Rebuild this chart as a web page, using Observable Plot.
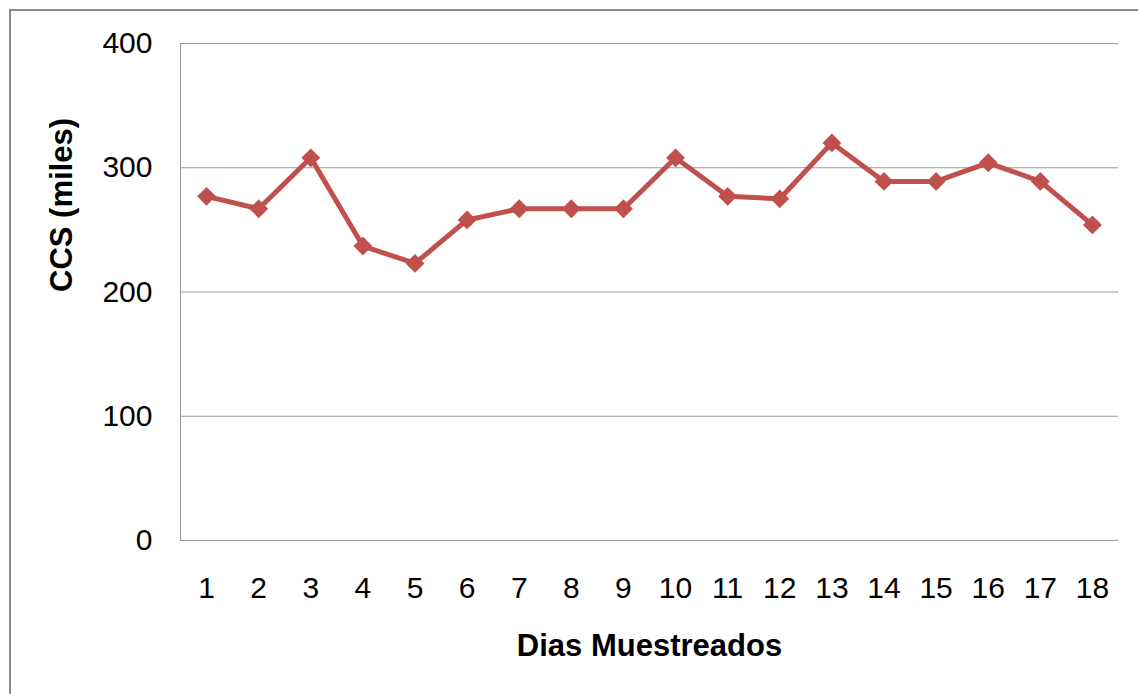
<!DOCTYPE html>
<html>
<head>
<meta charset="utf-8">
<script src="https://cdn.jsdelivr.net/npm/d3@7"></script>
<script src="https://cdn.jsdelivr.net/npm/@observablehq/plot@0.6"></script>
<style>
  html, body { margin: 0; padding: 0; background: #fff; overflow: hidden; }
  #wrap { position: relative; width: 1138px; height: 694px; }
  #border { position: absolute; left: 9px; top: 9px; width: 1200px; height: 760px; border: 2px solid #8a8a8a; box-sizing: border-box; }
  #chart { position: absolute; left: 0; top: 0; }
</style>
</head>
<body>
<div id="wrap"><div id="border"></div><div id="chart"></div></div>
<script>
const days = [1, 2, 3, 4, 5, 6, 7, 8, 9, 10, 11, 12, 13, 14, 15, 16, 17, 18];
const ccs = [277, 267, 308, 237, 223, 258, 267, 267, 267, 308, 277, 275, 320, 289, 289, 304, 289, 254];
const yTicks = [0, 100, 200, 300, 400];
const xTitle = "Dias Muestreados";
const yTitle = "CCS (miles)";

const data = days.map((d, i) => ({day: d, value: ccs[i]}));
const color = "#C0504D";

const chart = Plot.plot({
  width: 1138,
  height: 694,
  marginLeft: 180,
  marginRight: 20,
  marginTop: 43,
  marginBottom: 154,
  style: {fontFamily: "'Liberation Sans', Arial, sans-serif", fontSize: "30px", color: "#000", background: "transparent", overflow: "visible"},
  x: {type: "linear", domain: [0.5, 18.5]},
  y: {domain: [0, 400]},
  marks: [
    Plot.gridY(yTicks.filter(t => t > 0), {stroke: "#999", strokeOpacity: 1, strokeWidth: 1}),
    Plot.ruleY([0], {stroke: "#999", strokeWidth: 1}),
    Plot.ruleX([0.5], {stroke: "#999", strokeWidth: 1}),
    Plot.axisY(yTicks, {tickSize: 0, tickPadding: 28, label: null, fontSize: 30, fill: "#000"}),
    Plot.axisX(days, {tickSize: 0, tickPadding: 36, label: null, tickFormat: d => String(d), fontSize: 30, fill: "#000"}),
    Plot.line(data, {x: "day", y: "value", stroke: color, strokeWidth: 5}),
    Plot.dot(data, {x: "day", y: "value", symbol: "diamond2", r: 8.5, fill: color, stroke: null}),
    Plot.text([yTitle], {frameAnchor: "left", dx: -118, rotate: -90, lineAnchor: "middle", fontWeight: "bold", fontSize: 31, fill: "#000"}),
    Plot.text([xTitle], {frameAnchor: "bottom", dy: 106, lineAnchor: "middle", fontWeight: "bold", fontSize: 31, fill: "#000"})
  ]
});
document.getElementById("chart").appendChild(chart);
</script>
</body>
</html>
